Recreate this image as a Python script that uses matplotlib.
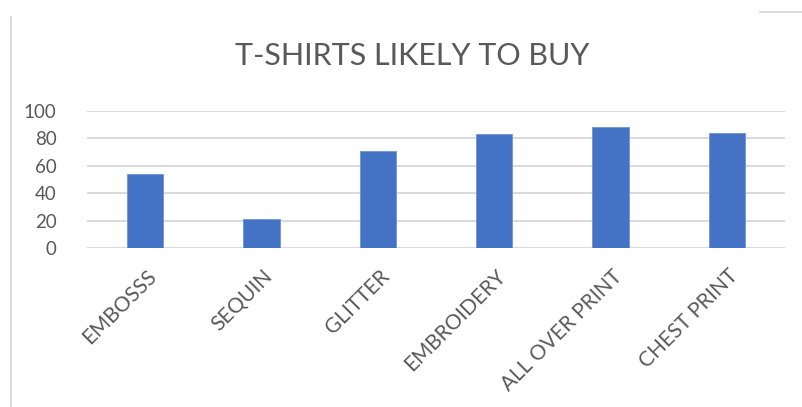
import matplotlib
matplotlib.use("Agg")
import matplotlib.pyplot as plt
from matplotlib.lines import Line2D
from matplotlib.transforms import ScaledTranslation

categories = ["EMBOSSS", "SEQUIN", "GLITTER", "EMBROIDERY", "ALL OVER PRINT", "CHEST PRINT"]
values = [54, 21, 71, 83, 88, 84]
yticks = [0, 20, 40, 60, 80, 100]

W, H = 803, 407
DPI = 100
text_color = "#595959"
grid_color = "#d9d9d9"
bar_color = "#4472c4"
font = ["Lato", "DejaVu Sans"]

fig = plt.figure(figsize=(W / DPI, H / DPI), dpi=DPI)
ax = fig.add_axes([87 / W, (H - 248) / H, (785 - 87) / W, (248 - 110.7) / H])

x = range(len(categories))
ax.bar(x, values, width=0.31, color=bar_color, edgecolor="#6f93d3", linewidth=0.6, zorder=3)

ax.set_xlim(-0.5, len(categories) - 0.5)
ax.set_ylim(0, 100)
ax.set_yticks(yticks)
ax.set_yticklabels([str(v) for v in yticks], fontsize=13.5, color=text_color, family=font)
ax.set_xticks(list(x))
ax.set_xticklabels(categories, rotation=45, ha="right", rotation_mode="anchor",
                   fontsize=15, color=text_color, family=font)
ax.tick_params(axis="both", length=0)
ax.tick_params(axis="y", pad=22)
ax.tick_params(axis="x", pad=13)

# nudge the slanted category labels so they end just right of each bar
shift = ScaledTranslation(1 / DPI, 0, fig.dpi_scale_trans)
for lbl in ax.get_xticklabels():
    lbl.set_transform(lbl.get_transform() + shift)

ax.yaxis.grid(True, color=grid_color, linewidth=1.4, zorder=0)
ax.set_axisbelow(True)
for s in ax.spines.values():
    s.set_visible(False)

fig.text(412 / W, 1 - 56 / H, "T-SHIRTS LIKELY TO BUY", ha="center", va="center",
         fontsize=22, color=text_color, family=font)

# chart frame fragments
fig.add_artist(Line2D([10.7 / W, 10.7 / W], [0, 1 - 17 / H], color=grid_color, linewidth=1.3))
fig.add_artist(Line2D([760 / W, 1], [1 - 12 / H, 1 - 12 / H], color=grid_color, linewidth=1.3))

fig.savefig("out.png", dpi=DPI, facecolor="white")
